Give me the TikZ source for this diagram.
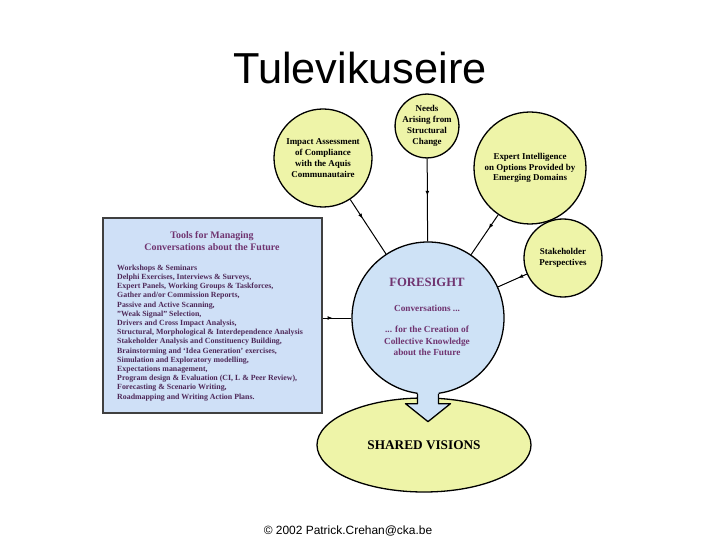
\documentclass[tikz,border=0pt]{standalone}
\usepackage{fontspec}
\setmainfont{Liberation Serif}
\newfontfamily\arialfont{Liberation Sans}
\usetikzlibrary{shapes.geometric, arrows.meta, decorations.markings}
\definecolor{bubbleyellow}{RGB}{238,244,168}
\definecolor{bubbleblue}{RGB}{206,226,246}
\definecolor{boxblue}{RGB}{207,224,247}
\definecolor{plum}{RGB}{112,52,112}
\definecolor{darkplum}{RGB}{78,40,88}

\begin{document}
\begin{tikzpicture}[x=1bp, y=-1bp,
    bubble/.style={circle, draw=black, line width=1.3bp, fill=bubbleyellow, inner sep=0pt,
        align=center, font=\bfseries\fontsize{9}{10.8}\selectfont},
    plumtext/.style={text=plum, align=center, inner sep=0pt},
    link/.style={line width=1bp},
    midarrow/.style={postaction={decorate}, decoration={markings,
        mark=at position #1 with {\arrow{Latex[length=5bp,width=4bp]}}}},
    midarrow/.default=0.4]
    \fill[white] (0,0) rectangle (720,540);
    \useasboundingbox (0,0) rectangle (720,540);

    % title and footer
    \node[anchor=base, font=\arialfont\fontsize{43.5}{48}\selectfont] (title) at (360,84) {Tulevikuseire};
    \node[anchor=base, font=\arialfont\fontsize{12}{14}\selectfont] (footer) at (348,534) {© 2002 Patrick.Crehan@cka.be};

    % outer circles
    \node[bubble, minimum size=56bp] (needs) at (427,126) {Needs\\Arising from\\Structural\\Change};
    \node[bubble, minimum size=98bp] (impact) at (323,158) {Impact Assessment\\of Compliance\\with the Aquis\\Communautaire};
    \node[bubble, minimum size=112bp] (expert) at (530,168) {Expert Intelligence\\on Options Provided by\\Emerging Domains};
    \node[bubble, minimum size=78bp] (stake) at (563,258) {Stakeholder\\Perspectives};

    % tools box
    \node[draw=black!75, line width=1.1bp, fill=boxblue, minimum width=219bp, minimum height=195bp,
        inner sep=0pt] (tools) at (212.5,315.5) {};
    \node[plumtext, font=\bfseries\fontsize{10}{12.5}\selectfont] (toolsTitle) at (212,241)
        {Tools for Managing\\Conversations about the Future};
    \node[anchor=north west, align=left, inner sep=0pt, text=darkplum,
        font=\bfseries\fontsize{7.9}{9.25}\selectfont] (toolsList) at (117,264.5)
        {Workshops \& Seminars\\
         Delphi Exercises, Interviews \& Surveys,\\
         Expert Panels, Working Groups \& Taskforces,\\
         Gather and/or Commission Reports,\\
         Passive and Active Scanning,\\
         "Weak Signal" Selection,\\
         Drivers and Cross Impact Analysis,\\
         Structural, Morphological \& Interdependence Analysis\\
         Stakeholder Analysis and Constituency Building,\\
         Brainstorming and `Idea Generation' exercises,\\
         Simulation and Exploratory modelling,\\
         Expectations management,\\
         Program design \& Evaluation (CI, L \& Peer Review),\\
         Forecasting \& Scenario Writing,\\
         Roadmapping and Writing Action Plans.};

    % shared visions
    \node[ellipse, draw=black, line width=1.3bp, fill=bubbleyellow, minimum width=214bp, minimum height=94bp,
        font=\bfseries\fontsize{13.3}{15}\selectfont] (shared) at (424,445) {SHARED VISIONS};

    % foresight circle with its arrow
    \node[circle, draw=black, line width=1.3bp, fill=bubbleblue, minimum size=152bp, inner sep=0pt] (foresight) at (428,318) {};
    \fill[bubbleblue] ([shift={(-10.5,-6)}]foresight.south) -- ++(0,15) -- ++(-12,0) -- ++(22.5,18)
        -- ++(22.5,-18) -- ++(-12,0) -- ++(0,-15) -- cycle;
    \draw[line width=1.3bp, line join=round] ([shift={(-10.5,-0.7)}]foresight.south) -- ++(0,9.7) -- ++(-12,0)
        -- ++(22.5,18) -- ++(22.5,-18) -- ++(-12,0) -- ++(0,-9.7);
    \node[plumtext, font=\bfseries\fontsize{12.7}{14}\selectfont] (fsTitle) at (427,282) {FORESIGHT};
    \node[plumtext, font=\bfseries\fontsize{9.3}{11.5}\selectfont] (fsConv) at (427,308) {Conversations ...};
    \node[plumtext, font=\bfseries\fontsize{9.3}{11.5}\selectfont] (fsKnow) at (427,341)
        {... for the Creation of\\Collective Knowledge\\about the Future};

    % connectors
    \draw[link, midarrow=0.45] (needs) -- (foresight);
    \draw[link, midarrow=0.35] (impact) -- (foresight);
    \draw[link, midarrow=0.35] (expert) -- (foresight);
    \draw[link, midarrow=0.3] (stake) -- (foresight);
    \draw[link, midarrow=0.35] (foresight.west -| tools.east) -- (foresight.west);
\end{tikzpicture}
\end{document}
